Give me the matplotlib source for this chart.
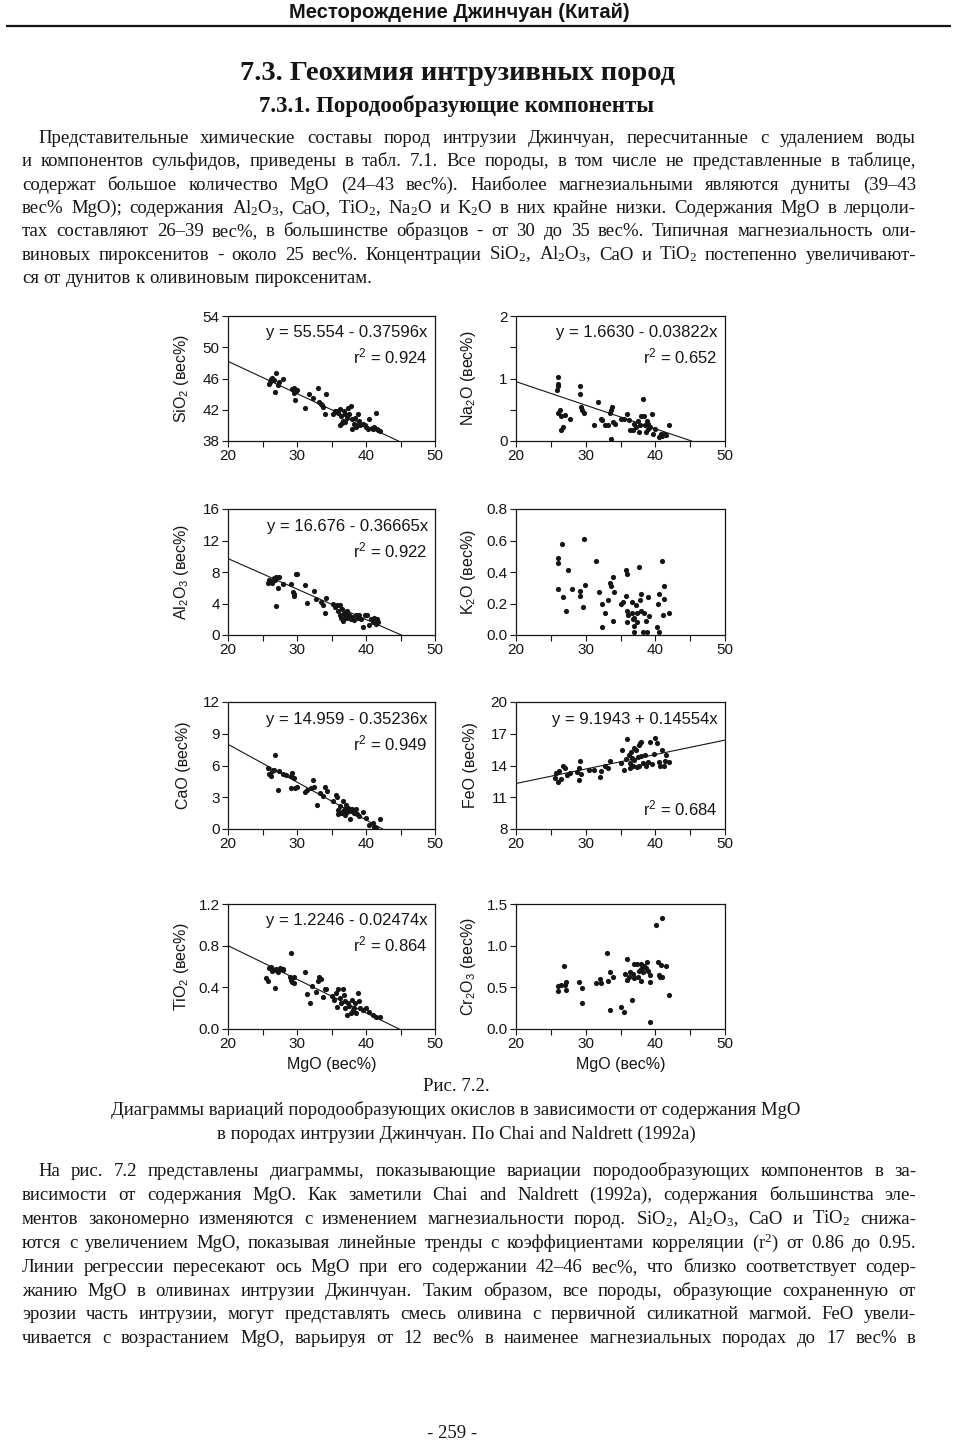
import matplotlib
matplotlib.use('Agg')
import matplotlib.pyplot as plt
from matplotlib.ticker import MultipleLocator, FormatStrFormatter

W, H = 957, 1446
plt.rcParams['mathtext.default'] = 'regular'
serif = ['Liberation Serif', 'DejaVu Serif']
sans = ['Liberation Sans', 'DejaVu Sans']
ink = '#151515'

# ---- data (MgO, oxide) ----
sio2_x = [26.0, 26.2, 26.4, 26.6, 27.0, 27.2, 27.4, 26.8, 28.0, 26.1, 29.3, 29.6, 29.8, 30.0, 29.5, 29.7,
          31.2, 31.8, 32.3, 33.0, 33.2, 33.5, 33.8, 34.0, 34.2, 33.6, 35.2, 35.5, 35.8, 36.0, 36.2, 36.4,
          36.5, 36.7, 36.8, 37.0, 37.2, 37.4, 37.6, 37.8, 38.0, 38.2, 38.0, 38.4, 38.6, 38.8, 39.0, 39.2,
          39.5, 39.8, 40.0, 40.3, 40.5, 40.8, 41.0, 41.2, 41.4, 41.6, 41.8, 42.0, 37.0, 36.3, 38.5]
sio2_y = [45.3, 45.9, 46.1, 45.8, 46.7, 45.2, 45.6, 44.3, 45.9, 45.5, 44.6, 44.8, 44.4, 44.5, 44.2, 43.2,
          42.2, 44.0, 43.5, 44.8, 43.0, 42.8, 42.3, 41.5, 44.0, 42.6, 41.5, 41.8, 41.8, 41.6, 42.1, 41.2,
          40.3, 40.5, 41.8, 41.4, 41.0, 42.2, 41.5, 42.5, 40.8, 40.2, 39.5, 41.0, 40.0, 41.5, 40.5, 40.0,
          40.2, 40.0, 39.8, 39.5, 40.8, 39.7, 39.5, 39.8, 41.6, 39.6, 39.4, 39.3, 40.4, 40.0, 39.8]

na2o_x = [26.0, 26.0, 26.0, 25.9, 26.0, 26.3, 26.4, 26.5, 26.8, 27.0, 27.8, 29.2, 29.2, 29.3, 29.5, 29.8,
          31.2, 31.8, 32.2, 32.3, 32.8, 33.2, 33.5, 33.6, 33.8, 33.7, 33.9, 34.2, 35.0, 35.5, 35.9, 36.2,
          36.4, 36.8, 37.0, 37.2, 37.5, 37.8, 38.0, 38.2, 38.4, 38.5, 38.7, 38.8, 39.0, 39.2, 39.5, 39.7,
          40.0, 40.5, 40.8, 41.0, 41.3, 41.6, 42.0, 37.6, 38.9]
na2o_y = [1.02, 0.92, 0.88, 0.82, 0.45, 0.50, 0.40, 0.17, 0.22, 0.42, 0.36, 0.88, 0.75, 0.55, 0.50, 0.45,
          0.25, 0.62, 0.35, 0.33, 0.25, 0.25, 0.45, 0.50, 0.55, 0.04, 0.30, 0.27, 0.35, 0.35, 0.43, 0.33,
          0.17, 0.18, 0.28, 0.22, 0.32, 0.25, 0.40, 0.67, 0.40, 0.25, 0.15, 0.32, 0.28, 0.22, 0.43, 0.12,
          0.20, 0.06, 0.12, 0.08, 0.12, 0.10, 0.25, 0.15, 0.20]

al2o3_x = [25.8, 26.0, 26.2, 26.4, 26.6, 26.8, 27.0, 27.2, 27.4, 26.9, 28.0, 29.2, 29.4, 29.5, 29.6, 29.8,
           30.0, 31.2, 31.5, 32.5, 32.8, 33.5, 33.8, 34.0, 34.2, 35.2, 35.5, 35.8, 36.0, 36.2, 36.4, 36.5,
           36.6, 36.8, 37.0, 37.2, 37.5, 37.8, 38.0, 38.2, 38.5, 38.8, 39.0, 39.3, 39.5, 39.8, 40.2, 40.5,
           40.7, 41.0, 41.2, 41.4, 41.6, 41.8, 36.3, 36.7, 37.3]
al2o3_y = [6.6, 7.0, 6.8, 6.6, 7.3, 7.0, 7.4, 6.0, 7.4, 3.7, 6.5, 6.5, 5.5, 5.2, 4.9, 7.7,
           7.7, 6.4, 4.1, 5.6, 4.6, 4.2, 3.8, 2.8, 4.7, 4.0, 3.5, 3.8, 3.0, 2.5, 2.2, 3.3,
           2.0, 2.8, 2.5, 3.0, 2.6, 2.0, 2.3, 1.9, 2.5, 2.2, 2.6, 2.0, 1.0, 2.5, 2.6, 1.3,
           2.0, 1.6, 2.2, 1.4, 2.0, 1.6, 3.8, 1.8, 2.2]

k2o_x = [26.0, 26.0, 26.0, 26.6, 26.7, 27.2, 27.4, 28.1, 29.2, 29.2, 29.6, 29.8, 29.9, 31.5, 31.9, 32.3,
         32.4, 32.8, 33.2, 33.5, 33.7, 33.9, 34.0, 33.9, 35.0, 35.3, 35.8, 35.8, 36.0, 35.9, 36.1, 36.0,
         36.6, 36.6, 36.8, 37.0, 37.0, 37.0, 37.2, 37.3, 37.4, 37.7, 37.8, 38.0, 38.0, 38.2, 38.4, 38.6,
         38.8, 38.9, 39.1, 40.2, 40.4, 40.5, 40.5, 41.0, 41.1, 41.3, 41.3, 42.0]
k2o_y = [0.49, 0.46, 0.29, 0.58, 0.24, 0.15, 0.41, 0.29, 0.28, 0.25, 0.18, 0.61, 0.32, 0.47, 0.27, 0.05,
         0.20, 0.14, 0.22, 0.33, 0.31, 0.37, 0.27, 0.09, 0.20, 0.21, 0.25, 0.41, 0.39, 0.15, 0.13, 0.08,
         0.14, 0.21, 0.10, 0.11, 0.02, 0.06, 0.19, 0.14, 0.08, 0.43, 0.22, 0.26, 0.15, 0.02, 0.14, 0.09,
         0.02, 0.24, 0.12, 0.05, 0.20, 0.26, 0.02, 0.47, 0.13, 0.31, 0.23, 0.14]

cao_x = [25.8, 26.0, 26.2, 26.4, 26.6, 26.8, 27.2, 27.4, 28.0, 28.4, 29.2, 29.3, 29.2, 29.5, 29.7, 30.0,
         31.2, 31.5, 32.0, 32.3, 32.5, 32.9, 33.4, 33.8, 34.1, 34.3, 35.2, 35.6, 35.8, 35.9, 36.0, 36.2,
         36.4, 36.6, 36.7, 36.9, 37.0, 37.1, 37.3, 37.5, 37.7, 37.8, 38.0, 38.2, 38.5, 38.7, 39.0, 39.5,
         40.0, 40.5, 41.0, 41.2, 41.5, 42.0, 36.8, 37.4]
cao_y = [5.8, 5.2, 5.0, 5.5, 5.6, 7.0, 3.7, 5.5, 5.2, 5.1, 5.0, 5.3, 3.9, 4.8, 3.9, 4.0,
         3.5, 3.7, 3.9, 4.6, 4.0, 2.3, 3.4, 3.1, 4.0, 3.6, 2.6, 3.2, 3.0, 1.8, 1.4, 2.2,
         1.5, 1.7, 2.6, 1.9, 1.3, 2.3, 1.6, 1.9, 0.9, 1.7, 1.9, 1.5, 1.9, 1.4, 1.2, 1.6,
         1.0, 0.4, 0.6, 0.2, 0.1, 0.9, 1.5, 2.0]

feo_x = [25.6, 25.8, 26.0, 26.2, 26.5, 26.7, 27.0, 27.3, 27.8, 28.8, 29.0, 29.0, 29.2, 29.4, 30.5, 31.2,
         32.0, 32.2, 32.8, 33.2, 33.5, 35.0, 35.2, 35.5, 35.8, 36.0, 36.2, 36.3, 36.5, 36.6, 36.8, 36.9,
         37.0, 37.2, 37.3, 37.5, 37.6, 37.8, 38.0, 38.0, 38.3, 38.5, 38.6, 39.0, 39.3, 39.5, 39.8, 40.0,
         40.2, 40.5, 40.7, 41.0, 41.2, 41.4, 41.6, 42.0, 36.4, 37.7]
feo_y = [12.8, 13.3, 12.4, 13.5, 12.7, 14.0, 13.8, 13.1, 13.3, 13.4, 13.8, 12.6, 14.4, 13.2, 13.6, 13.6,
         12.9, 13.5, 14.0, 13.8, 14.4, 14.2, 15.5, 13.6, 14.6, 16.5, 15.0, 14.2, 15.3, 14.7, 14.0, 15.7,
         14.5, 15.5, 13.9, 14.8, 15.9, 16.1, 16.2, 14.9, 14.2, 15.0, 14.0, 14.3, 16.2, 14.1, 15.1, 16.6,
         16.1, 14.3, 14.0, 15.5, 14.0, 14.4, 15.0, 14.3, 13.8, 14.0]

tio2_x = [25.5, 25.8, 26.0, 26.2, 26.4, 26.6, 26.8, 27.0, 27.3, 27.6, 27.9, 28.0, 29.2, 29.0, 29.2, 29.3,
          29.5, 29.6, 31.2, 31.5, 31.9, 32.2, 32.8, 33.0, 33.2, 33.5, 33.7, 34.0, 34.2, 35.0, 35.4, 35.6,
          35.8, 36.0, 36.2, 36.4, 36.6, 36.8, 37.0, 37.2, 37.4, 37.6, 37.8, 38.0, 38.2, 38.4, 38.6, 38.8,
          39.0, 39.2, 39.5, 40.0, 40.4, 41.0, 41.5, 42.0, 36.9, 38.1]
tio2_y = [0.49, 0.46, 0.59, 0.60, 0.56, 0.57, 0.39, 0.58, 0.55, 0.59, 0.57, 0.58, 0.73, 0.50, 0.47, 0.45,
          0.50, 0.44, 0.55, 0.34, 0.25, 0.41, 0.36, 0.46, 0.50, 0.48, 0.31, 0.38, 0.38, 0.32, 0.28, 0.35,
          0.21, 0.38, 0.30, 0.25, 0.38, 0.33, 0.20, 0.13, 0.25, 0.22, 0.15, 0.28, 0.20, 0.25, 0.15, 0.35,
          0.27, 0.20, 0.18, 0.20, 0.16, 0.13, 0.12, 0.12, 0.27, 0.18]

cr2o3_x = [26.0, 26.1, 26.5, 26.9, 27.0, 27.2, 27.2, 29.0, 29.5, 29.5, 31.5, 32.0, 32.2, 33.0, 33.2, 33.5,
           33.5, 33.9, 35.0, 35.5, 35.7, 35.9, 36.0, 36.2, 36.4, 36.6, 36.8, 37.0, 37.0, 37.3, 37.5, 37.9,
           38.0, 38.2, 38.4, 38.6, 38.8, 39.0, 39.2, 39.3, 39.2, 40.1, 40.4, 40.5, 40.6, 40.8, 41.0, 41.0,
           41.5, 42.0, 38.0, 37.7]
cr2o3_y = [0.52, 0.46, 0.53, 0.76, 0.53, 0.47, 0.56, 0.56, 0.49, 0.31, 0.55, 0.60, 0.55, 0.91, 0.58, 0.69,
           0.23, 0.63, 0.26, 0.21, 0.66, 0.84, 0.59, 0.63, 0.68, 0.35, 0.66, 0.78, 0.61, 0.78, 0.63, 0.58,
           0.72, 0.69, 0.76, 0.73, 0.80, 0.70, 0.65, 0.57, 0.08, 1.25, 0.80, 0.65, 0.62, 0.77, 0.63, 1.33,
           0.76, 0.41, 0.78, 0.70]

# regression lines as drawn in the figure (end points)
sio2_line = ([20, 44.7], [48.2, 38.0])
na2o_line = ([20, 45.2], [0.95, 0.0])
al2o3_line = ([20, 45.1], [9.7, 0.0])
cao_line = ([20, 42.4], [8.0, 0.0])
feo_line = ([20, 50], [12.3, 16.4])
tio2_line = ([20, 44.8], [0.80, 0.0])

xticks = [20, 30, 40, 50]

panels = [
    # x, y, ylabel, yticks, minor, fmt, eq, r2, r2_low, line
    (sio2_x, sio2_y, 'SiO$_2$ (вес%)', [38, 42, 46, 50, 54], None, '%d',
     'y = 55.554 - 0.37596x', 'r$^2$ = 0.924', False, sio2_line),
    (na2o_x, na2o_y, 'Na$_2$O (вес%)', [0, 1, 2], 0.5, '%d',
     'y = 1.6630 - 0.03822x', 'r$^2$ = 0.652', False, na2o_line),
    (al2o3_x, al2o3_y, 'Al$_2$O$_3$ (вес%)', [0, 4, 8, 12, 16], None, '%d',
     'y = 16.676 - 0.36665x', 'r$^2$ = 0.922', False, al2o3_line),
    (k2o_x, k2o_y, 'K$_2$O (вес%)', [0, 0.2, 0.4, 0.6, 0.8], None, '%.1f',
     None, None, False, None),
    (cao_x, cao_y, 'CaO (вес%)', [0, 3, 6, 9, 12], None, '%d',
     'y = 14.959 - 0.35236x', 'r$^2$ = 0.949', False, cao_line),
    (feo_x, feo_y, 'FeO (вес%)', [8, 11, 14, 17, 20], None, '%d',
     'y = 9.1943 + 0.14554x', 'r$^2$ = 0.684', True, feo_line),
    (tio2_x, tio2_y, 'TiO$_2$ (вес%)', [0, 0.4, 0.8, 1.2], None, '%.1f',
     'y = 1.2246 - 0.02474x', 'r$^2$ = 0.864', False, tio2_line),
    (cr2o3_x, cr2o3_y, 'Cr$_2$O$_3$ (вес%)', [0, 0.5, 1.0, 1.5], None, '%.1f',
     None, None, False, None),
]

# ---- page text ----
header = 'Месторождение Джинчуан (Китай)'
title = '7.3. Геохимия интрузивных пород'
subtitle = '7.3.1. Породообразующие компоненты'
para1 = [
    'Представительные химические составы пород интрузии Джинчуан, пересчитанные с удалением воды',
    'и компонентов сульфидов, приведены в табл. 7.1. Все породы, в том числе не представленные в таблице,',
    'содержат большое количество MgO (24–43 вес%). Наиболее магнезиальными являются дуниты (39–43',
    'вес% MgO); содержания Al$_2$O$_3$, CaO, TiO$_2$, Na$_2$O и K$_2$O в них крайне низки. Содержания MgO в лерцоли-',
    'тах составляют 26–39 вес%, в большинстве образцов - от 30 до 35 вес%. Типичная магнезиальность оли-',
    'виновых пироксенитов - около 25 вес%. Концентрации SiO$_2$, Al$_2$O$_3$, CaO и TiO$_2$ постепенно увеличивают-',
    'ся от дунитов к оливиновым пироксенитам.',
]
caption = [
    'Рис. 7.2.',
    'Диаграммы вариаций породообразующих окислов в зависимости от содержания MgO',
    'в породах интрузии Джинчуан. По Chai and Naldrett (1992a)',
]
para2 = [
    'На рис. 7.2 представлены диаграммы, показывающие вариации породообразующих компонентов в за-',
    'висимости от содержания MgO. Как заметили Chai and Naldrett (1992a), содержания большинства эле-',
    'ментов закономерно изменяются с изменением магнезиальности пород. SiO$_2$, Al$_2$O$_3$, CaO и TiO$_2$ снижа-',
    'ются с увеличением MgO, показывая линейные тренды с коэффициентами корреляции (r$^2$) от 0.86 до 0.95.',
    'Линии регрессии пересекают ось MgO при его содержании 42–46 вес%, что близко соответствует содер-',
    'жанию MgO в оливинах интрузии Джинчуан. Таким образом, все породы, образующие сохраненную от',
    'эрозии часть интрузии, могут представлять смесь оливина с первичной силикатной магмой. FeO увели-',
    'чивается с возрастанием MgO, варьируя от 12 вес% в наименее магнезиальных породах до 17 вес% в',
]
page_no = '- 259 -'

fig = plt.figure(figsize=(W / 100, H / 100), dpi=100)
fig.patch.set_facecolor('white')
renderer = fig.canvas.get_renderer()

# page canvas in pixel units
page = fig.add_axes([0, 0, 1, 1], zorder=0)
page.set_xlim(0, W)
page.set_ylim(H, 0)
page.axis('off')


def measure(s, fs):
    t = page.text(0, 0, s, fontsize=fs, family=serif)
    w = t.get_window_extent(renderer).width
    t.remove()
    return w


def put_line(s, y, x0, x1, fs, justify=True):
    words = s.split(' ')
    ws = [measure(w, fs) for w in words]
    if justify and len(words) > 1:
        gap = (x1 - x0 - sum(ws)) / (len(words) - 1)
    else:
        gap = measure('a b', fs) - measure('ab', fs)
    x = x0
    for w, wd in zip(words, ws):
        page.text(x, y, w, fontsize=fs, family=serif, color=ink, ha='left', va='baseline')
        x += wd + gap


# header + rule
page.text(459, 13, header, fontsize=14.5, family=['Liberation Sans Narrow', 'Liberation Sans'],
          weight='bold', color=ink, ha='center', va='center')
page.plot([6, 951], [26, 26], color=ink, lw=1.6, solid_capstyle='butt')

page.text(457, 73, title, fontsize=20.5, family=serif, weight='bold', color=ink, ha='center', va='center')
page.text(457, 106, subtitle, fontsize=16.5, family=serif, weight='bold', color=ink, ha='center', va='center')

# text body
LEFT, RIGHT, INDENT = 22, 916, 38
fs_body = 13.5
fit = min((RIGHT - (INDENT if i == 0 else LEFT)) / (measure(s, fs_body) + 1e-9)
          for p in (para1, para2) for i, s in enumerate(p))
fs_body = min(fs_body, fs_body * fit * 0.985)

for i, s in enumerate(para1):
    put_line(s, 143 + i * 23.3, INDENT if i == 0 else LEFT, RIGHT, fs_body, justify=(i < len(para1) - 1))

for i, s in enumerate(caption):
    page.text(456, 1091 + i * 24, s, fontsize=fs_body, family=serif, color=ink, ha='center', va='baseline')

for i, s in enumerate(para2):
    put_line(s, 1176 + i * 23.9, INDENT if i == 0 else LEFT, RIGHT, fs_body, justify=True)

page.text(452, 1438, page_no, fontsize=fs_body, family=serif, color=ink, ha='center', va='baseline')

# ---- scatter panels ----
cols = [(228, 435), (516, 725)]
rows = [(316, 441), (509, 635), (702, 829), (904, 1029)]

for k, (x, y, ylab, yt, minor, fmt, eq, r2, r2_low, line) in enumerate(panels):
    r, c = divmod(k, 2)
    x0, x1 = cols[c]
    y0, y1 = rows[r]
    ax = fig.add_axes([x0 / W, 1 - y1 / H, (x1 - x0) / W, (y1 - y0) / H], zorder=2)
    ax.scatter(x, y, s=14, color=ink, linewidths=0, zorder=3)
    if line is not None:
        ax.plot(line[0], line[1], color=ink, lw=0.8, zorder=2)
    ax.set_xlim(20, 50)
    ax.set_ylim(yt[0], yt[-1])
    ax.set_xticks(xticks)
    ax.xaxis.set_minor_locator(MultipleLocator(5))
    ax.set_yticks(yt)
    if minor:
        ax.yaxis.set_minor_locator(MultipleLocator(minor))
    ax.yaxis.set_major_formatter(FormatStrFormatter(fmt))
    ax.tick_params(which='both', direction='out', length=4, width=0.8, color=ink,
                   labelsize=11, labelcolor=ink, pad=2)
    for lab in ax.get_xticklabels() + ax.get_yticklabels():
        lab.set_family(sans)
    for sp in ax.spines.values():
        sp.set_linewidth(0.9)
        sp.set_color(ink)
    ax.set_ylabel(ylab, fontsize=11.5, family=sans, color=ink)
    ax.yaxis.set_label_coords(-0.18, 0.5)
    if r == 3:
        ax.set_xlabel('MgO (вес%)', fontsize=11.5, family=sans, color=ink)
        ax.xaxis.set_label_coords(0.5, -0.22)
    if eq:
        ax.text(0.965, 0.865, eq, transform=ax.transAxes, fontsize=12, family=sans,
                color=ink, ha='right', va='center')
        ax.text(0.965, 0.16 if r2_low else 0.675, r2, transform=ax.transAxes, fontsize=12,
                family=sans, color=ink, ha='right', va='center')

fig.savefig('out.png', dpi=100, facecolor='white')
